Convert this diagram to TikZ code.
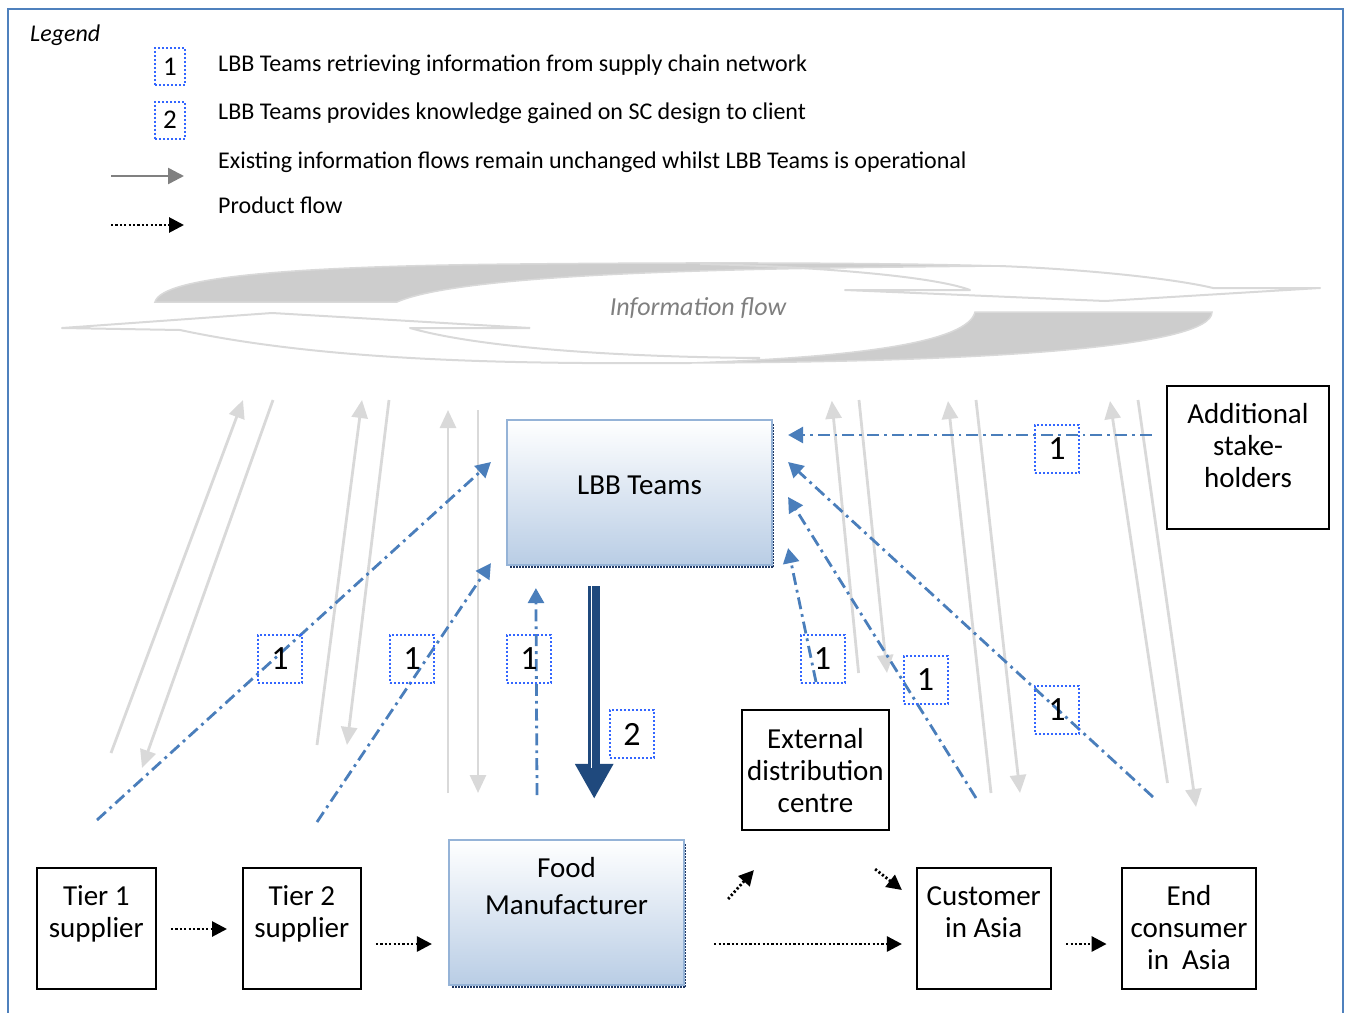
\documentclass[tikz,border=0pt]{standalone}
\usepackage{fontspec}
\setmainfont{Carlito}
\usetikzlibrary{arrows.meta,calc}

\definecolor{frameblue}{HTML}{4F81BD}
\definecolor{flowblue}{HTML}{4A7EBB}
\definecolor{tagblue}{HTML}{3366FF}
\definecolor{boxfill}{HTML}{B9CDE5}
\definecolor{boxedge}{HTML}{95B3D7}
\definecolor{navy}{HTML}{1F497D}
\definecolor{shadownavy}{HTML}{1F3864}
\definecolor{infogray}{HTML}{D9D9D9}
\definecolor{bandgray}{HTML}{CDCDCD}
\definecolor{arrowgray}{HTML}{808080}
\definecolor{textgray}{HTML}{7F7F7F}

\newcommand\bodyfont{\fontsize{29}{32}\selectfont}
\newcommand\legfont{\fontsize{24}{28}\selectfont}

\tikzset{
  plainbox/.style={draw=black, line width=2.2pt, inner sep=0pt},
  shadebox/.style={draw=boxedge, line width=2.2pt, top color=white, bottom color=boxfill, inner sep=0pt},
  boxtext/.style={align=center, inner sep=0pt, font=\bodyfont, anchor=base},
  tag/.style={draw=tagblue, line width=2pt, dash pattern=on 2pt off 2pt, inner sep=0pt,
              minimum width=44pt, minimum height=48pt, font=\fontsize{34}{36}\selectfont},
  legtag/.style={tag, minimum width=30pt, minimum height=37pt, font=\fontsize{27}{30}\selectfont},
  legtext/.style={inner sep=0pt, anchor=base west, font=\legfont},
  prod/.style={line width=2.8pt, dash pattern=on 2.2pt off 2.2pt, -{Triangle[length=15pt,width=15pt]}},
  info/.style={draw=infogray, line width=2.8pt, -{Triangle[length=18pt,width=16pt]}},
  probe/.style={draw=flowblue, line width=2.8pt, dash pattern=on 12pt off 5pt on 2.8pt off 5pt,
                -{Triangle[length=15pt,width=16pt]}},
  legarrow/.style={draw=arrowgray, line width=2.5pt, -{Triangle[length=16pt,width=16pt]}},
  shadowline/.style={draw=shadownavy, line width=2.5pt, dash pattern=on 1.5pt off 1.5pt},
  bandline/.style={draw=infogray, line width=2pt, line join=round},
}

\begin{document}
\begin{tikzpicture}[x=1pt,y=-1pt]
\useasboundingbox (0,0) rectangle (1349,1012);

% outer frame, open at the bottom
\draw[frameblue, line width=2.5pt] (8,1014) -- (8,9) -- (1343,9) -- (1343,1014);

% ---------------- legend ----------------
\node[legtext, font=\legfont\itshape] (legend) at (30,41.7) {Legend};
\node[legtag] (lt1) at (170,66.5) {1};
\node[legtag] (lt2) at (170,120) {2};
\node[legtext] (l1) at (218,71) {LBB Teams retrieving information from supply chain network};
\node[legtext] (l2) at (218,119.5) {LBB Teams provides knowledge gained on SC design to client};
\node[legtext] (l3) at (218,168.5) {Existing information flows remain unchanged whilst LBB Teams is operational};
\node[legtext] (l4) at (218,213.5) {Product flow};
\coordinate (lgA) at (111,176); \coordinate (lgB) at (184,176);
\draw[legarrow] (lgA) -- (lgB);
\coordinate (lpA) at (111,225); \coordinate (lpB) at (184,225);
\draw[prod] (lpA) -- (lpB);

% ---------------- information flow loop ----------------
% rightward sweep: shaded underside and outlined head
\filldraw[fill=bandgray, draw=infogray, line width=1.5pt]
  (155,302) .. controls (162,276) and (300,266) .. (520,264)
  .. controls (720,262) and (900,263) .. (1000,266)
  .. controls (800,268) and (470,270) .. (397,302) -- cycle;
\draw[bandline] (1000,266) .. controls (1100,270) and (1180,280) .. (1213,288)
  -- (1320,288) -- (1105,301) -- (845,290) -- (970,290)
  .. controls (930,275) and (800,266) .. (700,264);
% leftward sweep: shaded underside and outlined head
\filldraw[fill=bandgray, draw=infogray, line width=1.5pt]
  (975,312) -- (1212,312) .. controls (1212,346) and (1000,362) .. (690,363)
  .. controls (860,357) and (968,342) .. (975,312) -- cycle;
\draw[bandline] (530,328) -- (272,313) -- (62,328) -- (180,330)
  .. controls (330,362) and (520,364) .. (690,363);
\draw[bandline] (530,328) -- (410,328) .. controls (480,348) and (620,357) .. (760,358);
\node[inner sep=0pt, font=\fontsize{26}{30}\selectfont\itshape, text=textgray] (iflow) at (698,308) {Information flow};

% ---------------- actors ----------------
\node[shadebox, minimum width=265pt, minimum height=145pt] (lbb) at (639.5,492.5) {};
\draw[shadowline] (510,567) -- (773.5,567);
\draw[shadowline, line width=1.2pt] (773.5,424) -- (773.5,567);
\node[boxtext] (lbbt) at (639.5,494) {LBB Teams};

\node[shadebox, minimum width=235pt, minimum height=145pt] (food) at (566.5,912.5) {};
\draw[shadowline] (452,987) -- (685.5,987);
\draw[shadowline, line width=1.2pt] (685.5,844) -- (685.5,987);
\node[boxtext, font=\fontsize{29}{37}\selectfont] (foodt) at (566.5,914) {Food\\Manufacturer};

\node[plainbox, minimum width=119pt, minimum height=121pt] (tier1) at (96.3,928.3) {};
\node[boxtext] (tier1t) at (96.3,937) {Tier 1\\supplier};
\node[plainbox, minimum width=118pt, minimum height=121pt] (tier2) at (301.8,928.3) {};
\node[boxtext] (tier2t) at (301.8,937) {Tier 2\\supplier};
\node[plainbox, minimum width=134pt, minimum height=121pt] (cust) at (983.7,928.3) {};
\node[boxtext] (custt) at (983.7,937) {Customer\\in Asia};
\node[plainbox, minimum width=134pt, minimum height=121pt] (endc) at (1189,928.3) {};
\node[boxtext] (endct) at (1189,969) {End\\consumer\\in\ \ Asia};
\node[plainbox, minimum width=147pt, minimum height=120pt] (extdc) at (815.5,770) {};
\node[boxtext] (extdct) at (815.5,812) {External\\distribution\\centre};
\node[plainbox, minimum width=162pt, minimum height=143pt] (addl) at (1248,457.5) {};
\node[boxtext] (addlt) at (1248,487) {Additional\\stake-\\holders};

% ---------------- existing information flows ----------------
\coordinate (ga1) at (111,753);  \coordinate (gb1) at (243,400);
\coordinate (ga2) at (273,400);  \coordinate (gb2) at (142,768);
\coordinate (ga3) at (317,745);  \coordinate (gb3) at (362,400);
\coordinate (ga4) at (389,400);  \coordinate (gb4) at (347,745);
\coordinate (ga5) at (448,793);  \coordinate (gb5) at (448,410);
\coordinate (ga6) at (478,410);  \coordinate (gb6) at (478,793);
\coordinate (ga7) at (858.6,673); \coordinate (gb7) at (831.8,400.7);
\coordinate (ga8) at (859,400);  \coordinate (gb8) at (887,673);
\coordinate (ga9) at (991,793);  \coordinate (gb9) at (948,401);
\coordinate (ga10) at (976,400); \coordinate (gb10) at (1020,793);
\coordinate (ga11) at (1167.5,783); \coordinate (gb11) at (1110,401);
\coordinate (ga12) at (1138,400); \coordinate (gb12) at (1196,807);
\foreach \i in {1,...,12} { \draw[info] (ga\i) -- (gb\i); }

% ---------------- LBB Teams retrieving information ----------------
\coordinate (pa1) at (97,820);
\coordinate (pa2) at (317,822);
\coordinate (pa3) at (537,795);
\coordinate (pa4) at (816,682);
\coordinate (pa5) at (976,798);
\coordinate (pa6) at (1153,797);
\draw[probe] (pa1) -- ($(lbb.west)+(-15,-30.5)$);
\draw[probe] (pa2) -- ($(lbb.south west)+(-15,-3)$);
\draw[probe] (pa3) -- ($(lbb.south west)+(30,22)$);
\draw[probe] (pa4) -- ($(lbb.south east)+(15,-18)$);
\draw[probe] (pa5) -- ($(lbb.east)+(15,4.5)$);
\draw[probe] (pa6) -- ($(lbb.east)+(15,-30.5)$);
\draw[probe] ($(addl.west)+(-14,-22.5)$) -- ($(lbb.east)+(15,-57.5)$);

\node[tag] (t1) at (280,658.5) {1};
\node[tag] (t2) at (412,658.5) {1};
\node[tag] (t3) at (529,658.5) {1};
\node[tag] (t4) at (822.5,659) {1};
\node[tag] (t5) at (925.5,680) {1};
\node[tag] (t6) at (1057,710) {1};
\node[tag] (t7) at (1057,449) {1};

% ---------------- LBB Teams provides knowledge ----------------
\draw[navy, line width=12pt, -{Triangle[length=35pt,width=36pt]}]
  ($(lbb.south west)+(88.3,20)$) -- ($(food.north west)+(146.3,-40)$);
\draw[white, line width=1.6pt] ($(lbb.south west)+(85.5,20)$) -- ($(lbb.south west)+(85.5,202)$);
\node[tag] (t8) at (632,734) {2};

% ---------------- product flow ----------------
\draw[prod] ($(tier1.east)+(14,0.7)$) -- ($(tier2.west)+(-14.7,0.7)$);
\draw[prod] ($(tier2.east)+(14,15.7)$) -- ($(food.west)+(-16,31.5)$);
\draw[prod] ($(food.east)+(29,31.5)$) -- ($(cust.west)+(-13.7,15.7)$);
\draw[prod] ($(food.east)+(43,-13.5)$) -- ($(extdc.south west)+(13,39)$);
\draw[prod] ($(extdc.south east)+(-15,38)$) -- ($(cust.north west)+(-13.7,23.3)$);
\draw[prod] ($(cust.east)+(14.3,15.7)$) -- ($(endc.west)+(-14.3,15.7)$);

\end{tikzpicture}
\end{document}
